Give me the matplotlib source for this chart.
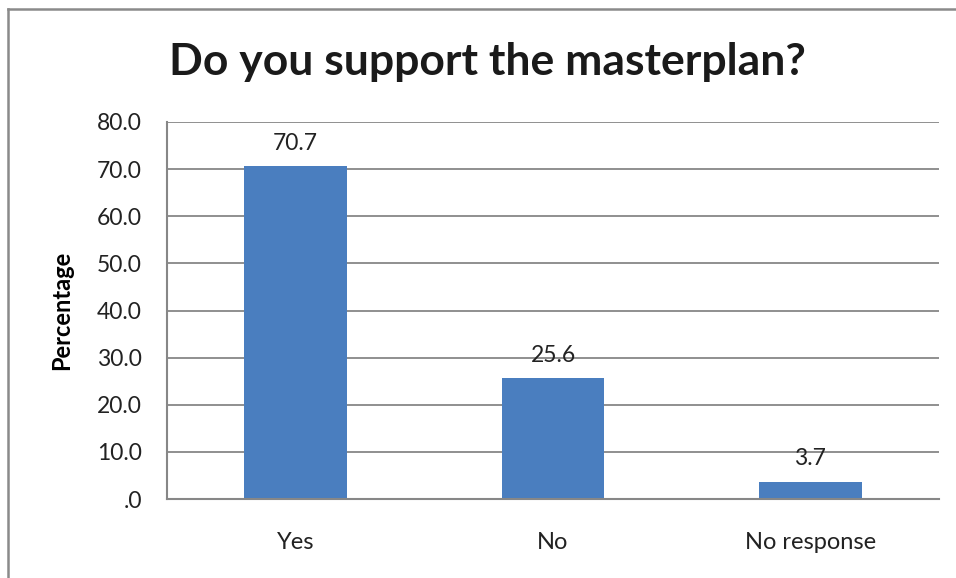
import matplotlib.pyplot as plt
from matplotlib.lines import Line2D

categories = ["Yes", "No", "No response"]
percentages = [70.7, 25.6, 3.7]
yticks = [0, 10, 20, 30, 40, 50, 60, 70, 80]
ytick_labels = [".0", "10.0", "20.0", "30.0", "40.0", "50.0", "60.0", "70.0", "80.0"]

plt.rcParams["font.family"] = ["Lato", "DejaVu Sans"]

W, H = 956, 578
fig = plt.figure(figsize=(W / 100, H / 100), dpi=100)

# axes box in pixel terms: left 167, right 939, top 122, bottom 499
ax = fig.add_axes([167 / W, 1 - 499 / H, (939 - 167) / W, (499 - 122) / H])

x = range(len(categories))
bars = ax.bar(x, percentages, width=0.4, color="#4a7ebf", zorder=3)
for b, v in zip(bars, percentages):
    ax.text(b.get_x() + b.get_width() / 2, v + 2.6, f"{v:.1f}",
            ha="center", va="bottom", fontsize=16.5, color="#222222", zorder=4)

ax.set_xlim(-0.5, len(categories) - 0.5)
ax.set_ylim(0, 80)
ax.set_yticks(yticks)
ax.set_yticklabels(ytick_labels, fontsize=16.5, color="#222222")
ax.set_xticks(list(x))
ax.set_xticklabels(categories, fontsize=17, color="#222222")
ax.tick_params(axis="y", length=0, pad=18)
ax.tick_params(axis="x", length=0, pad=24)

ax.grid(axis="y", color="#878787", linewidth=1.3, zorder=0)
for side in ["top", "right"]:
    ax.spines[side].set_visible(False)
for side in ["left", "bottom"]:
    ax.spines[side].set_color("#878787")
    ax.spines[side].set_linewidth(1.5)
    ax.spines[side].set_zorder(5)

ax.set_ylabel("Percentage", fontsize=17, fontweight="bold")
ax.yaxis.set_label_coords(-94 / (939 - 167), 0.5)

fig.text(487 / W, 1 - 62 / H, "Do you support the masterplan?",
         ha="center", va="center", fontsize=32, fontweight="bold", color="#1a1a1a")

# outer frame (only top and left edges fall inside the image)
fig.add_artist(Line2D([8 / W, 1.0], [1 - 9 / H, 1 - 9 / H], transform=fig.transFigure,
                      color="#8a8a8a", linewidth=1.8))
fig.add_artist(Line2D([8 / W, 8 / W], [0.0, 1 - 9 / H], transform=fig.transFigure,
                      color="#8a8a8a", linewidth=1.8))

fig.savefig("out.png", dpi=100)
